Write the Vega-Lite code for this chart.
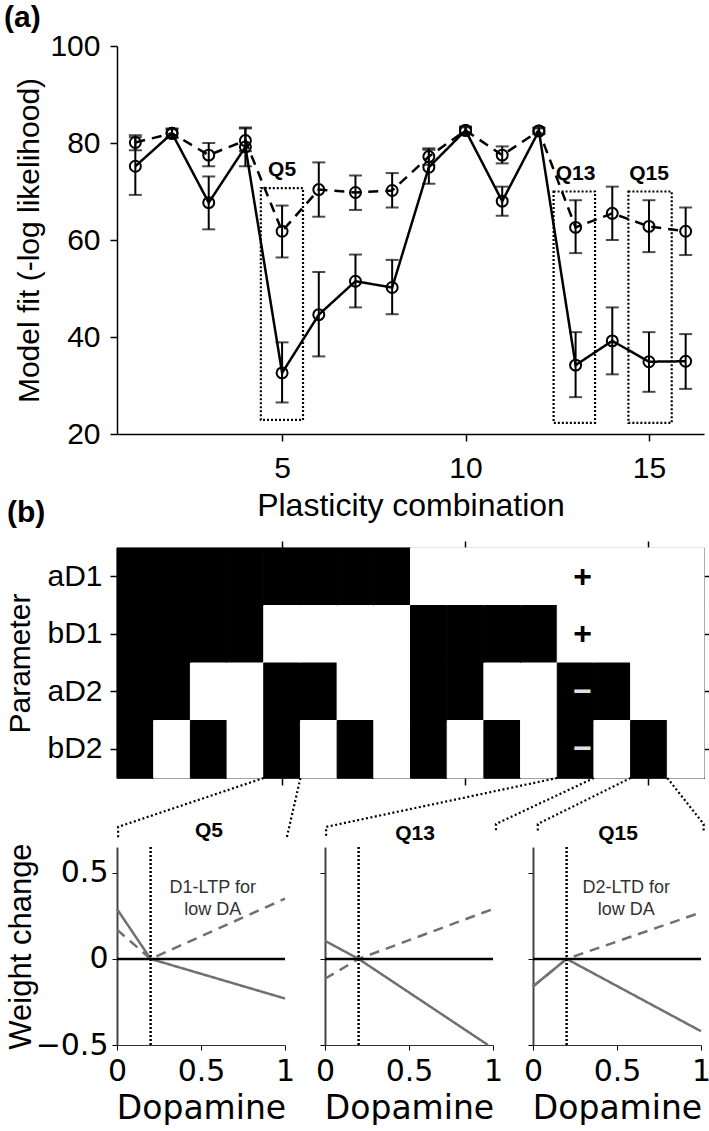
{
  "$schema": "https://vega.github.io/schema/vega-lite/v6.json",
  "background": "white",
  "padding": {"left": 3, "top": 3, "right": 0, "bottom": 0},
  "datasets": {
    "fits": [
      {"combo": 1, "series": "solid", "fit": 75.2, "lo": 69.3, "hi": 81.2},
      {"combo": 2, "series": "solid", "fit": 82.0, "lo": 81.0, "hi": 83.0},
      {"combo": 3, "series": "solid", "fit": 67.7, "lo": 62.2, "hi": 73.1},
      {"combo": 4, "series": "solid", "fit": 79.2, "lo": 75.2, "hi": 83.2},
      {"combo": 5, "series": "solid", "fit": 32.6, "lo": 26.5, "hi": 38.9},
      {"combo": 6, "series": "solid", "fit": 44.6, "lo": 36.0, "hi": 53.4},
      {"combo": 7, "series": "solid", "fit": 51.5, "lo": 46.1, "hi": 57.0},
      {"combo": 8, "series": "solid", "fit": 50.2, "lo": 44.7, "hi": 55.9},
      {"combo": 9, "series": "solid", "fit": 75.0, "lo": 71.6, "hi": 78.6},
      {"combo": 10, "series": "solid", "fit": 82.6, "lo": 81.8, "hi": 83.4},
      {"combo": 11, "series": "solid", "fit": 68.0, "lo": 65.0, "hi": 71.0},
      {"combo": 12, "series": "solid", "fit": 82.5, "lo": 81.8, "hi": 83.2},
      {"combo": 13, "series": "solid", "fit": 34.2, "lo": 27.6, "hi": 41.0},
      {"combo": 14, "series": "solid", "fit": 39.2, "lo": 32.3, "hi": 46.1},
      {"combo": 15, "series": "solid", "fit": 34.9, "lo": 28.7, "hi": 41.0},
      {"combo": 16, "series": "solid", "fit": 35.0, "lo": 29.3, "hi": 40.6},
      {"combo": 1, "series": "dashed", "fit": 80.1, "lo": 78.5, "hi": 81.6},
      {"combo": 2, "series": "dashed", "fit": 82.0, "lo": 81.2, "hi": 82.8},
      {"combo": 3, "series": "dashed", "fit": 77.5, "lo": 75.2, "hi": 80.0},
      {"combo": 4, "series": "dashed", "fit": 80.5, "lo": 78.3, "hi": 83.0},
      {"combo": 5, "series": "dashed", "fit": 61.8, "lo": 56.4, "hi": 67.1},
      {"combo": 6, "series": "dashed", "fit": 70.4, "lo": 64.8, "hi": 76.0},
      {"combo": 7, "series": "dashed", "fit": 69.8, "lo": 66.2, "hi": 73.3},
      {"combo": 8, "series": "dashed", "fit": 70.2, "lo": 66.7, "hi": 73.8},
      {"combo": 9, "series": "dashed", "fit": 77.2, "lo": 75.5, "hi": 78.9},
      {"combo": 10, "series": "dashed", "fit": 82.6, "lo": 82.0, "hi": 83.2},
      {"combo": 11, "series": "dashed", "fit": 77.5, "lo": 75.8, "hi": 79.3},
      {"combo": 12, "series": "dashed", "fit": 82.5, "lo": 82.0, "hi": 83.0},
      {"combo": 13, "series": "dashed", "fit": 62.6, "lo": 57.3, "hi": 68.2},
      {"combo": 14, "series": "dashed", "fit": 65.5, "lo": 60.0, "hi": 71.0},
      {"combo": 15, "series": "dashed", "fit": 62.8, "lo": 57.5, "hi": 68.2},
      {"combo": 16, "series": "dashed", "fit": 61.8, "lo": 56.9, "hi": 66.7}
    ],
    "qboxes": [
      {"label": "Q5", "combo": 5, "xmin": 4.42, "xmax": 5.57, "ymin": 22.9, "ymax": 70.7},
      {"label": "Q13", "combo": 13, "xmin": 12.4, "xmax": 13.53, "ymin": 22.3, "ymax": 70.0},
      {"label": "Q15", "combo": 15, "xmin": 14.44, "xmax": 15.62, "ymin": 22.3, "ymax": 70.0}
    ],
    "cells": [
      {"combo": 1, "param": "aD1", "active": 1}, {"combo": 1, "param": "bD1", "active": 1}, {"combo": 1, "param": "aD2", "active": 1}, {"combo": 1, "param": "bD2", "active": 1},
      {"combo": 2, "param": "aD1", "active": 1}, {"combo": 2, "param": "bD1", "active": 1}, {"combo": 2, "param": "aD2", "active": 1}, {"combo": 2, "param": "bD2", "active": 0},
      {"combo": 3, "param": "aD1", "active": 1}, {"combo": 3, "param": "bD1", "active": 1}, {"combo": 3, "param": "aD2", "active": 0}, {"combo": 3, "param": "bD2", "active": 1},
      {"combo": 4, "param": "aD1", "active": 1}, {"combo": 4, "param": "bD1", "active": 1}, {"combo": 4, "param": "aD2", "active": 0}, {"combo": 4, "param": "bD2", "active": 0},
      {"combo": 5, "param": "aD1", "active": 1}, {"combo": 5, "param": "bD1", "active": 0}, {"combo": 5, "param": "aD2", "active": 1}, {"combo": 5, "param": "bD2", "active": 1},
      {"combo": 6, "param": "aD1", "active": 1}, {"combo": 6, "param": "bD1", "active": 0}, {"combo": 6, "param": "aD2", "active": 1}, {"combo": 6, "param": "bD2", "active": 0},
      {"combo": 7, "param": "aD1", "active": 1}, {"combo": 7, "param": "bD1", "active": 0}, {"combo": 7, "param": "aD2", "active": 0}, {"combo": 7, "param": "bD2", "active": 1},
      {"combo": 8, "param": "aD1", "active": 1}, {"combo": 8, "param": "bD1", "active": 0}, {"combo": 8, "param": "aD2", "active": 0}, {"combo": 8, "param": "bD2", "active": 0},
      {"combo": 9, "param": "aD1", "active": 0}, {"combo": 9, "param": "bD1", "active": 1}, {"combo": 9, "param": "aD2", "active": 1}, {"combo": 9, "param": "bD2", "active": 1},
      {"combo": 10, "param": "aD1", "active": 0}, {"combo": 10, "param": "bD1", "active": 1}, {"combo": 10, "param": "aD2", "active": 1}, {"combo": 10, "param": "bD2", "active": 0},
      {"combo": 11, "param": "aD1", "active": 0}, {"combo": 11, "param": "bD1", "active": 1}, {"combo": 11, "param": "aD2", "active": 0}, {"combo": 11, "param": "bD2", "active": 1},
      {"combo": 12, "param": "aD1", "active": 0}, {"combo": 12, "param": "bD1", "active": 1}, {"combo": 12, "param": "aD2", "active": 0}, {"combo": 12, "param": "bD2", "active": 0},
      {"combo": 13, "param": "aD1", "active": 0}, {"combo": 13, "param": "bD1", "active": 0}, {"combo": 13, "param": "aD2", "active": 1}, {"combo": 13, "param": "bD2", "active": 1},
      {"combo": 14, "param": "aD1", "active": 0}, {"combo": 14, "param": "bD1", "active": 0}, {"combo": 14, "param": "aD2", "active": 1}, {"combo": 14, "param": "bD2", "active": 0},
      {"combo": 15, "param": "aD1", "active": 0}, {"combo": 15, "param": "bD1", "active": 0}, {"combo": 15, "param": "aD2", "active": 0}, {"combo": 15, "param": "bD2", "active": 1},
      {"combo": 16, "param": "aD1", "active": 0}, {"combo": 16, "param": "bD1", "active": 0}, {"combo": 16, "param": "aD2", "active": 0}, {"combo": 16, "param": "bD2", "active": 0}
    ],
    "signs": [
      {"combo": 13, "param": "aD1", "sign": "+"},
      {"combo": 13, "param": "bD1", "sign": "+"},
      {"combo": 13, "param": "aD2", "sign": "−"},
      {"combo": 13, "param": "bD2", "sign": "−"}
    ],
    "links": [
      {"link": "Q5a", "step": 1, "x": 4.5, "y": 0}, {"link": "Q5a", "step": 2, "x": 0.53, "y": -0.85}, {"link": "Q5a", "step": 3, "x": 0.53, "y": -1.03},
      {"link": "Q5b", "step": 1, "x": 5.5, "y": 0}, {"link": "Q5b", "step": 2, "x": 5.13, "y": -1.03},
      {"link": "Q13a", "step": 1, "x": 12.5, "y": 0}, {"link": "Q13a", "step": 2, "x": 6.2, "y": -0.85}, {"link": "Q13a", "step": 3, "x": 6.2, "y": -1.03},
      {"link": "Q13b", "step": 1, "x": 13.5, "y": 0}, {"link": "Q13b", "step": 2, "x": 10.83, "y": -0.8}, {"link": "Q13b", "step": 3, "x": 10.83, "y": -0.95},
      {"link": "Q15a", "step": 1, "x": 14.5, "y": 0}, {"link": "Q15a", "step": 2, "x": 11.97, "y": -0.8}, {"link": "Q15a", "step": 3, "x": 11.97, "y": -0.95},
      {"link": "Q15b", "step": 1, "x": 15.5, "y": 0}, {"link": "Q15b", "step": 2, "x": 16.49, "y": -0.8}, {"link": "Q15b", "step": 3, "x": 16.49, "y": -0.95}
    ],
    "curves": [
      {"panel": "Q5", "receptor": "D1", "dopamine": 0, "weight": 0.29},
      {"panel": "Q5", "receptor": "D1", "dopamine": 0.2, "weight": 0},
      {"panel": "Q5", "receptor": "D1", "dopamine": 1, "weight": -0.23},
      {"panel": "Q5", "receptor": "D2", "dopamine": 0, "weight": 0.17},
      {"panel": "Q5", "receptor": "D2", "dopamine": 0.2, "weight": 0},
      {"panel": "Q5", "receptor": "D2", "dopamine": 1, "weight": 0.35},
      {"panel": "Q13", "receptor": "D1", "dopamine": 0, "weight": 0.105},
      {"panel": "Q13", "receptor": "D1", "dopamine": 0.2, "weight": 0},
      {"panel": "Q13", "receptor": "D1", "dopamine": 0.97, "weight": -0.5},
      {"panel": "Q13", "receptor": "D2", "dopamine": 0, "weight": -0.115},
      {"panel": "Q13", "receptor": "D2", "dopamine": 0.2, "weight": 0},
      {"panel": "Q13", "receptor": "D2", "dopamine": 1, "weight": 0.29},
      {"panel": "Q15", "receptor": "D1", "dopamine": 0, "weight": -0.16},
      {"panel": "Q15", "receptor": "D1", "dopamine": 0.2, "weight": 0},
      {"panel": "Q15", "receptor": "D1", "dopamine": 1, "weight": -0.42},
      {"panel": "Q15", "receptor": "D2", "dopamine": 0, "weight": -0.16},
      {"panel": "Q15", "receptor": "D2", "dopamine": 0.2, "weight": 0},
      {"panel": "Q15", "receptor": "D2", "dopamine": 1, "weight": 0.27}
    ]
  },
  "spacing": -24,
  "vconcat": [
    {"hconcat": [
      {
        "width": 587, "height": 388,
        "title": {"text": "(a)", "anchor": "start", "frame": "bounds", "fontSize": 30, "fontWeight": "bold", "dx": -10, "offset": -2},
        "layer": [
          {
            "data": {"name": "qboxes"},
            "mark": {"type": "rect", "filled": false, "stroke": "black", "strokeWidth": 2.2, "strokeDash": [2, 2]},
            "encoding": {
              "x": {"field": "xmin", "type": "quantitative", "scale": {"domain": [0.5, 16.5], "nice": false, "zero": false},
                    "axis": {"orient": "bottom", "values": [5, 10, 15], "title": "Plasticity combination", "labelFontSize": 30, "titleFontSize": 32, "tickSize": 7, "tickWidth": 1.5, "domainWidth": 1.5, "labelPadding": 12, "titlePadding": 7, "labelFlush": false, "labelOverlap": false}},
              "x2": {"field": "xmax"},
              "y": {"field": "ymin", "type": "quantitative", "scale": {"domain": [20, 100], "nice": false, "zero": false},
                    "axis": {"values": [20, 40, 60, 80, 100], "title": "Model fit (-log likelihood)", "labelFontSize": 30, "titleFontSize": 30, "tickSize": 7, "tickWidth": 1.5, "domainWidth": 1.5, "labelPadding": 10, "titleX": -88, "titleBaseline": "middle", "labelFlush": false, "labelOverlap": false}},
              "y2": {"field": "ymax"}
            }
          },
          {
            "data": {"name": "fits"},
            "mark": {"type": "rule", "color": "black", "strokeWidth": 2},
            "encoding": {
              "x": {"field": "combo", "type": "quantitative"},
              "y": {"field": "lo", "type": "quantitative"},
              "y2": {"field": "hi"}
            }
          },
          {
            "data": {"name": "fits"},
            "mark": {"type": "tick", "orient": "horizontal", "color": "black", "size": 13, "thickness": 2},
            "encoding": {
              "x": {"field": "combo", "type": "quantitative"},
              "y": {"field": "lo", "type": "quantitative"}
            }
          },
          {
            "data": {"name": "fits"},
            "mark": {"type": "tick", "orient": "horizontal", "color": "black", "size": 13, "thickness": 2},
            "encoding": {
              "x": {"field": "combo", "type": "quantitative"},
              "y": {"field": "hi", "type": "quantitative"}
            }
          },
          {
            "data": {"name": "fits"},
            "mark": {"type": "line", "color": "black", "strokeWidth": 2.5},
            "encoding": {
              "x": {"field": "combo", "type": "quantitative"},
              "y": {"field": "fit", "type": "quantitative"},
              "strokeDash": {"field": "series", "type": "nominal", "scale": {"domain": ["solid", "dashed"], "range": [[1, 0], [10, 7]]}, "legend": null}
            }
          },
          {
            "data": {"name": "fits"},
            "mark": {"type": "point", "shape": "circle", "filled": false, "color": "black", "size": 120, "strokeWidth": 2, "opacity": 1},
            "encoding": {
              "x": {"field": "combo", "type": "quantitative"},
              "y": {"field": "fit", "type": "quantitative"}
            }
          },
          {
            "data": {"name": "qboxes"},
            "mark": {"type": "text", "fontSize": 21, "fontWeight": "bold", "baseline": "alphabetic", "dy": -12, "color": "black"},
            "encoding": {
              "x": {"field": "combo", "type": "quantitative"},
              "y": {"field": "ymax", "type": "quantitative"},
              "text": {"field": "label"}
            }
          }
        ]
      }
    ]},
    {"spacing": -24, "vconcat": [
      {"hconcat": [
        {
          "width": 587, "height": 230,
          "view": {"stroke": "#444", "strokeWidth": 1.2},
          "title": {"text": "(b)", "anchor": "start", "frame": "bounds", "fontSize": 30, "fontWeight": "bold", "dx": 2, "offset": 12},
          "resolve": {"scale": {"x": "independent", "y": "independent"}},
          "layer": [
            {"layer": [
              {
                "data": {"name": "cells"},
                "mark": {"type": "rect", "strokeWidth": 1},
                "encoding": {
                  "x": {"field": "combo", "type": "ordinal", "scale": {"domain": [1,2,3,4,5,6,7,8,9,10,11,12,13,14,15,16], "paddingInner": 0, "paddingOuter": 0},
                        "axis": {"orient": "bottom", "values": [5, 10, 15], "labels": false, "title": null, "domain": false, "tickSize": 7, "tickWidth": 1.5}},
                  "y": {"field": "param", "type": "nominal", "scale": {"domain": ["aD1", "bD1", "aD2", "bD2"], "paddingInner": 0, "paddingOuter": 0},
                        "axis": {"orient": "left", "title": "Parameter", "labelFontSize": 30, "titleFontSize": 30, "tickSize": 7, "tickWidth": 1.5, "labelPadding": 8, "domain": false, "titleX": -97, "titleBaseline": "middle"}},
                  "color": {"field": "active", "type": "nominal", "scale": {"domain": [1, 0], "range": ["black", "white"]}, "legend": null},
                  "stroke": {"field": "active", "type": "nominal", "scale": {"domain": [1, 0], "range": ["black", "white"]}, "legend": null}
                }
              },
              {
                "data": {"name": "signs"},
                "mark": {"type": "text", "fontSize": 32, "fontWeight": "bold", "dx": 7, "baseline": "middle"},
                "encoding": {
                  "x": {"field": "combo", "type": "ordinal", "axis": {"orient": "top", "values": [5, 10, 15], "labels": false, "title": null, "domain": false, "tickSize": 7, "tickWidth": 1.5}},
                  "y": {"field": "param", "type": "nominal", "axis": {"orient": "right", "labels": false, "title": null, "domain": false, "tickSize": 7, "tickWidth": 1.5}},
                  "text": {"field": "sign"},
                  "fill": {"field": "sign", "type": "nominal", "scale": {"domain": ["+", "−"], "range": ["black", "#e0e0e0"]}, "legend": null}
                }
              }
            ]},
            {
              "data": {"name": "links"},
              "mark": {"type": "line", "color": "black", "strokeWidth": 2.2, "strokeDash": [2, 2.5], "clip": false},
              "encoding": {
                "x": {"field": "x", "type": "quantitative", "scale": {"domain": [0.5, 16.5], "nice": false, "zero": false}, "axis": null},
                "y": {"field": "y", "type": "quantitative", "scale": {"domain": [0, 4], "nice": false, "zero": false}, "axis": null},
                "detail": {"field": "link"},
                "order": {"field": "step"}
              }
            }
          ]
        }
      ]},
      {"spacing": 20, "hconcat": [
        {
          "width": 168, "height": 198,
          "title": {"text": "Q5", "fontSize": 21, "fontWeight": "bold", "offset": 2, "dx": 8},
          "layer": [
            {
              "data": {"name": "curves"},
              "transform": [{"filter": "datum.panel === 'Q5'"}],
              "mark": {"type": "line", "color": "#707070", "strokeWidth": 2.5},
              "encoding": {
                "x": {"field": "dopamine", "type": "quantitative", "scale": {"domain": [0, 1], "nice": false},
                      "axis": {"values": [0, 0.5, 1], "format": "~g", "title": "Dopamine", "labelFont": "DejaVu Sans", "labelFontSize": 30, "titleFont": "DejaVu Sans", "titleFontSize": 33, "tickSize": 5, "labelPadding": 6, "titlePadding": 6, "labelFlush": false, "labelOverlap": false, "domainColor": "#333"}},
                "y": {"field": "weight", "type": "quantitative", "scale": {"domain": [-0.5, 0.65], "nice": false, "zero": false},
                      "axis": {"values": [-0.5, 0, 0.5], "format": "~g", "title": "Weight change", "titleFontSize": 31, "titleX": -96, "titleBaseline": "middle", "labelFont": "DejaVu Sans", "labelFontSize": 30, "tickSize": 5, "labelPadding": 4, "labelFlush": false, "labelOverlap": false, "domainColor": "#444", "domainWidth": 2}},
                "strokeDash": {"field": "receptor", "type": "nominal", "scale": {"domain": ["D1", "D2"], "range": [[1, 0], [9, 6]]}, "legend": null},
                "order": {"field": "dopamine"}
              }
            },
            {"data": {"values": [{}]}, "mark": {"type": "rule", "color": "black", "strokeWidth": 2.5}, "encoding": {"y": {"datum": 0}}},
            {"data": {"values": [{}]}, "mark": {"type": "rule", "color": "black", "strokeWidth": 2.5, "strokeDash": [2, 2]}, "encoding": {"x": {"datum": 0.2}}},
            {"data": {"values": [{}]}, "mark": {"type": "text", "text": ["D1-LTP for", "low DA"], "fontSize": 18, "lineHeight": 22, "color": "#333", "baseline": "middle"}, "encoding": {"x": {"datum": 0.57}, "y": {"datum": 0.41}}}
          ]
        },
        {
          "width": 168, "height": 198,
          "title": {"text": "Q13", "fontSize": 21, "fontWeight": "bold", "offset": 2, "dx": 6},
          "layer": [
            {
              "data": {"name": "curves"},
              "transform": [{"filter": "datum.panel === 'Q13'"}],
              "mark": {"type": "line", "color": "#707070", "strokeWidth": 2.5},
              "encoding": {
                "x": {"field": "dopamine", "type": "quantitative", "scale": {"domain": [0, 1], "nice": false},
                      "axis": {"values": [0, 0.5, 1], "format": "~g", "title": "Dopamine", "labelFont": "DejaVu Sans", "labelFontSize": 30, "titleFont": "DejaVu Sans", "titleFontSize": 33, "tickSize": 5, "labelPadding": 6, "titlePadding": 6, "labelFlush": false, "labelOverlap": false, "domainColor": "#333"}},
                "y": {"field": "weight", "type": "quantitative", "scale": {"domain": [-0.5, 0.65], "nice": false, "zero": false},
                      "axis": {"values": [-0.5, 0, 0.5], "title": null, "labels": false, "tickSize": 5, "domainColor": "#444", "domainWidth": 2}},
                "strokeDash": {"field": "receptor", "type": "nominal", "scale": {"domain": ["D1", "D2"], "range": [[1, 0], [9, 6]]}, "legend": null},
                "order": {"field": "dopamine"}
              }
            },
            {"data": {"values": [{}]}, "mark": {"type": "rule", "color": "black", "strokeWidth": 2.5}, "encoding": {"y": {"datum": 0}}},
            {"data": {"values": [{}]}, "mark": {"type": "rule", "color": "black", "strokeWidth": 2.5, "strokeDash": [2, 2]}, "encoding": {"x": {"datum": 0.2}}}
          ]
        },
        {
          "width": 168, "height": 198,
          "title": {"text": "Q15", "fontSize": 21, "fontWeight": "bold", "offset": 2, "dx": 1},
          "layer": [
            {
              "data": {"name": "curves"},
              "transform": [{"filter": "datum.panel === 'Q15'"}],
              "mark": {"type": "line", "color": "#707070", "strokeWidth": 2.5},
              "encoding": {
                "x": {"field": "dopamine", "type": "quantitative", "scale": {"domain": [0, 1], "nice": false},
                      "axis": {"values": [0, 0.5, 1], "format": "~g", "title": "Dopamine", "labelFont": "DejaVu Sans", "labelFontSize": 30, "titleFont": "DejaVu Sans", "titleFontSize": 33, "tickSize": 5, "labelPadding": 6, "titlePadding": 6, "labelFlush": false, "labelOverlap": false, "domainColor": "#333"}},
                "y": {"field": "weight", "type": "quantitative", "scale": {"domain": [-0.5, 0.65], "nice": false, "zero": false},
                      "axis": {"values": [-0.5, 0, 0.5], "title": null, "labels": false, "tickSize": 5, "domainColor": "#444", "domainWidth": 2}},
                "strokeDash": {"field": "receptor", "type": "nominal", "scale": {"domain": ["D1", "D2"], "range": [[1, 0], [9, 6]]}, "legend": null},
                "order": {"field": "dopamine"}
              }
            },
            {"data": {"values": [{}]}, "mark": {"type": "rule", "color": "black", "strokeWidth": 2.5}, "encoding": {"y": {"datum": 0}}},
            {"data": {"values": [{}]}, "mark": {"type": "rule", "color": "black", "strokeWidth": 2.5, "strokeDash": [2, 2]}, "encoding": {"x": {"datum": 0.2}}},
            {"data": {"values": [{}]}, "mark": {"type": "text", "text": ["D2-LTD for", "low DA"], "fontSize": 18, "lineHeight": 22, "color": "#333", "baseline": "middle"}, "encoding": {"x": {"datum": 0.555}, "y": {"datum": 0.41}}}
          ]
        }
      ]}
    ]}
  ],
  "config": {
    "font": "Liberation Sans",
    "view": {"stroke": null},
    "axis": {"domainColor": "black", "tickColor": "black", "labelColor": "black", "titleColor": "black", "grid": false, "titleFontWeight": "normal"},
    "title": {"color": "black"}
  }
}
